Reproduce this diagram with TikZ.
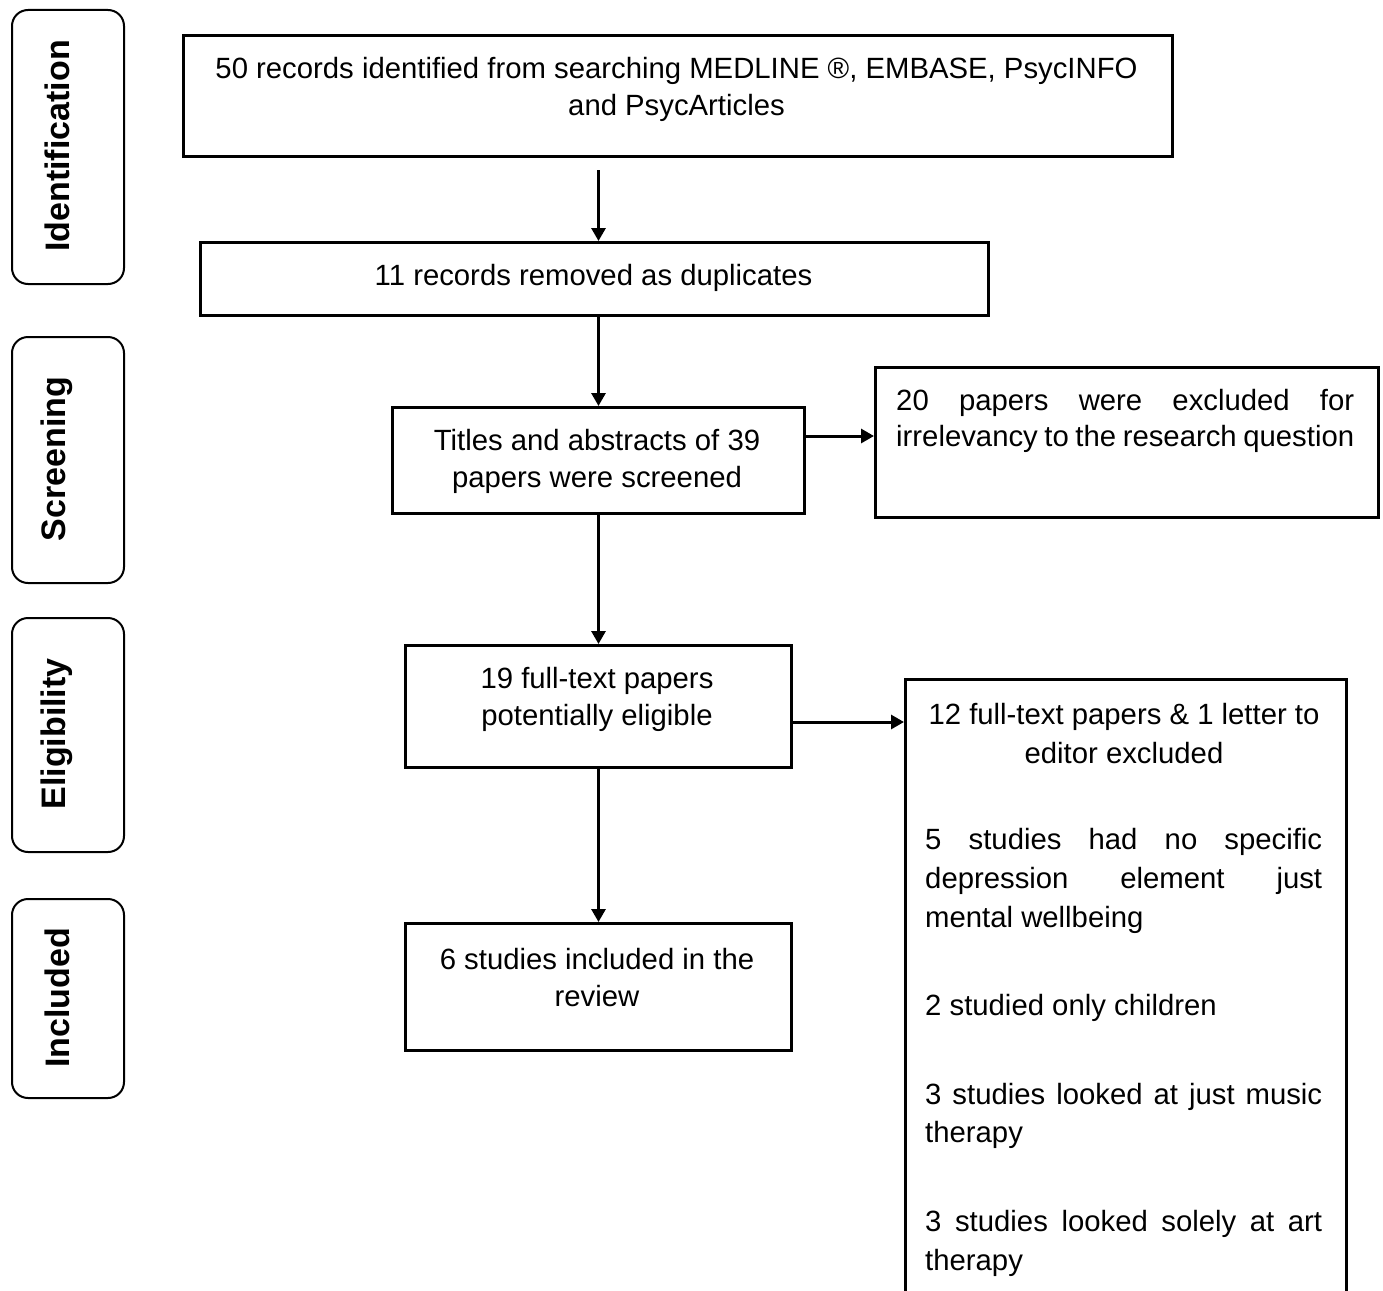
\documentclass[tikz,border=0pt]{standalone}
\usepackage{fontspec}
\setmainfont{Liberation Sans}
\usetikzlibrary{arrows.meta}
\begin{document}
\begin{tikzpicture}[x=1pt,y=-1pt,
  box/.style={draw, line width=3pt, inner sep=0pt, anchor=north west},
  phase/.style={draw, line width=2pt, rounded corners=16pt, inner sep=0pt, anchor=north west},
  lbl/.style={font=\fontsize{34}{40}\selectfont\bfseries, rotate=90, inner sep=0pt},
  txt/.style={font=\fontsize{29.3}{37}\selectfont, align=center, inner sep=0pt},
  ptxt/.style={font=\fontsize{29.3}{39}\selectfont, align=left, inner sep=0pt, anchor=north west},
  arr/.style={line width=3pt, -{Triangle[length=13pt,width=14pt]}}]
\useasboundingbox (0,0) rectangle (1383,1290);
\fill[white] (0,0) rectangle (1383,1290);

% phase labels
\node[phase, minimum width=112pt, minimum height=274pt] (p1) at (11,9) {};
\node[lbl] (l1) at (57,146) {Identification};
\node[phase, minimum width=112pt, minimum height=246pt] (p2) at (11,336) {};
\node[lbl] (l2) at (57,459) {Screening};
\node[phase, minimum width=112pt, minimum height=234pt] (p3) at (11,617) {};
\node[lbl] (l3) at (57,734) {Eligibility};
\node[phase, minimum width=112pt, minimum height=199pt] (p4) at (11,898) {};
\node[lbl] (l4) at (57,998) {Included};

% boxes
\node[box, minimum width=989pt, minimum height=121pt] (b1) at (182,34) {};
\node[txt] (t1) at (676.5,89) {50 records identified from searching MEDLINE ®, EMBASE, PsycINFO\\and PsycArticles};

\node[box, minimum width=788pt, minimum height=73pt] (b2) at (199,241) {};
\node[txt] (t2) at (593.5,277.5) {11 records removed as duplicates};

\node[box, minimum width=412pt, minimum height=106pt] (b3) at (391,406) {};
\node[txt] (t3) at (597,461) {Titles and abstracts of 39\\papers were screened};

\node[box, minimum width=503pt, minimum height=150pt] (b4) at (874,366) {};
\node[ptxt, font=\fontsize{29.3}{36}\selectfont] (t4) at (896,389) {\makebox[458pt][s]{20 papers were excluded for}\\\makebox[458pt][s]{irrelevancy to the research question}};

\node[box, minimum width=386pt, minimum height=122pt] (b5) at (404,644) {};
\node[txt] (t5) at (597,699.5) {19 full-text papers\\potentially eligible};

\node[box, minimum width=441pt, minimum height=680pt] (b6) at (904,678) {};
\node[txt, font=\fontsize{29.3}{39}\selectfont] (t6a) at (1124,734) {12 full-text papers \& 1 letter to\\editor excluded};
\node[ptxt] (t6b) at (925,828) {\makebox[397pt][s]{5 studies had no specific}\\\makebox[397pt][s]{depression element just}\\mental wellbeing};
\node[ptxt] (t6c) at (925,994) {2 studied only children};
\node[ptxt, font=\fontsize{29.3}{38}\selectfont] (t6d) at (925,1083) {\makebox[397pt][s]{3 studies looked at just music}\\therapy};
\node[ptxt] (t6e) at (925,1210) {\makebox[397pt][s]{3 studies looked solely at art}\\therapy};

\node[box, minimum width=386pt, minimum height=127pt] (b7) at (404,922) {};
\node[txt] (t7) at (597,977.5) {6 studies included in the\\review};

% connectors
\coordinate (h1) at (0,436);
\coordinate (h2) at (0,722);
\draw[arr, shorten <=12pt] (b1.south -| b3.north) -- (b2.north -| b3.north);
\draw[arr] (b2.south -| b3.north) -- (b3.north);
\draw[arr] (b3.east |- h1) -- (b4.west |- h1);
\draw[arr] (b3.south) -- (b5.north);
\draw[arr] (b5.east |- h2) -- (b6.west |- h2);
\draw[arr] (b5.south) -- (b7.north);
\end{tikzpicture}
\end{document}
